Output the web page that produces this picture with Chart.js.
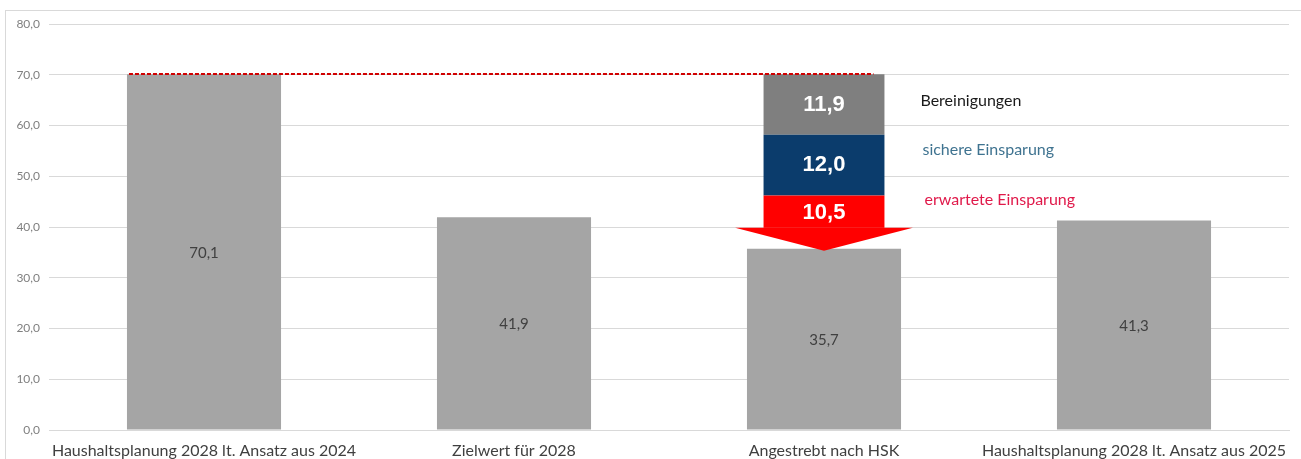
<!DOCTYPE html>
<html>
<head>
<meta charset="utf-8">
<script src="https://cdn.jsdelivr.net/npm/chart.js@4.4.1/dist/chart.umd.min.js"></script>
<style>
  html, body { margin: 0; padding: 0; background: #fff; }
  #wrap { position: relative; width: 1301px; height: 459px; overflow: hidden; }
  #frame { position: absolute; left: 5px; top: 10px; width: 1310px; height: 470px; border: 1px solid #d9d9d9; }
  #chart { position: absolute; left: 0; top: 0; }
</style>
</head>
<body>
<div id="wrap">
  <div id="frame"></div>
  <canvas id="chart" width="1301" height="459"></canvas>
</div>
<script>
var categories = [
  'Haushaltsplanung 2028 lt. Ansatz aus 2024',
  'Zielwert für 2028',
  'Angestrebt nach HSK',
  'Haushaltsplanung 2028 lt. Ansatz aus 2025'
];
var baseValues = [70.1, 41.9, 35.7, 41.3];
var expectedSavings = [null, null, 10.5, null];
var secureSavings = [null, null, 12.0, null];
var adjustments = [null, null, 11.9, null];
var seriesNames = ['erwartete Einsparung', 'sichere Einsparung', 'Bereinigungen'];
var targetLine = 70;

function fmt(v) {
  return v.toFixed(1).replace('.', ',');
}

var overlay = {
  id: 'overlay',
  afterDatasetsDraw: function (chart) {
    var ctx = chart.ctx;
    var y = chart.scales.y;
    var base0 = chart.getDatasetMeta(0).data;
    var red = chart.getDatasetMeta(1).data[2];
    var blue = chart.getDatasetMeta(2).data[2];
    var grey = chart.getDatasetMeta(3).data[2];

    // arrow for expected savings
    var headH = 21;
    var headHalf = red.width * 0.735;
    var rectBottom = red.base - headH;
    ctx.save();
    ctx.fillStyle = '#ff0000';
    ctx.fillRect(red.x - red.width / 2, red.y, red.width, rectBottom - red.y);
    ctx.beginPath();
    ctx.moveTo(red.x - headHalf, rectBottom);
    ctx.lineTo(red.x + headHalf, rectBottom);
    ctx.lineTo(red.x, red.base + 2);
    ctx.closePath();
    ctx.fill();

    // dashed target line
    var yy = Math.round(y.getPixelForValue(targetLine)) - 1;
    ctx.strokeStyle = '#d00000';
    ctx.lineWidth = 2;
    ctx.setLineDash([4, 2]);
    ctx.beginPath();
    ctx.moveTo(base0[0].x - base0[0].width / 2 + 2, yy);
    ctx.lineTo(grey.x + grey.width / 2 - 11, yy);
    ctx.stroke();
    ctx.setLineDash([]);

    // value labels in grey bars
    ctx.textAlign = 'center';
    ctx.textBaseline = 'middle';
    ctx.font = '15px Lato';
    ctx.fillStyle = '#404040';
    base0.forEach(function (el, i) {
      ctx.fillText(fmt(baseValues[i]), el.x, (el.y + el.base) / 2 + 1);
    });

    // stacked labels
    ctx.font = 'bold 22px "Liberation Sans"';
    ctx.fillStyle = '#ffffff';
    ctx.fillText(fmt(adjustments[2]), grey.x, (grey.y + grey.base) / 2);
    ctx.fillText(fmt(secureSavings[2]), blue.x, (blue.y + blue.base) / 2);
    ctx.fillText(fmt(expectedSavings[2]), red.x, (red.y + rectBottom) / 2 + 1);

    // side captions
    var tx = grey.x + grey.width / 2 + 36;
    ctx.textAlign = 'left';
    ctx.font = '16px Lato';
    ctx.fillStyle = '#1a1a1a';
    ctx.fillText(seriesNames[2], tx, grey.y + 27);
    ctx.fillStyle = '#3f7390';
    ctx.fillText(seriesNames[1], tx + 2, blue.y + 15);
    ctx.fillStyle = '#e0194a';
    ctx.fillText(seriesNames[0], tx + 4, red.y + 4);
    ctx.restore();
  }
};

var chart = new Chart(document.getElementById('chart').getContext('2d'), {
  type: 'bar',
  data: {
    labels: categories,
    datasets: [{
      label: 'Basis',
      data: baseValues,
      backgroundColor: '#a5a5a5',
      barPercentage: 0.497,
      categoryPercentage: 1
    }, {
      label: seriesNames[0],
      data: expectedSavings,
      backgroundColor: 'rgba(0,0,0,0)',
      barPercentage: 0.39,
      categoryPercentage: 1
    }, {
      label: seriesNames[1],
      data: secureSavings,
      backgroundColor: '#0b3c6c',
      barPercentage: 0.39,
      categoryPercentage: 1
    }, {
      label: seriesNames[2],
      data: adjustments,
      backgroundColor: '#7f7f7f',
      barPercentage: 0.39,
      categoryPercentage: 1
    }]
  },
  options: {
    responsive: false,
    animation: false,
    layout: { padding: { top: 24, right: 12, left: 0, bottom: 0 } },
    plugins: {
      legend: { display: false },
      tooltip: { enabled: false }
    },
    scales: {
      x: {
        stacked: true,
        grid: { display: false },
        border: { display: true, color: '#d9d9d9' },
        ticks: {
          color: '#404040',
          font: { family: 'Lato', size: 16 },
          padding: 3,
          maxRotation: 0,
          autoSkip: false
        },
        afterFit: function (s) { s.height = 29; }
      },
      y: {
        stacked: true,
        min: 0,
        max: 80,
        ticks: {
          stepSize: 10,
          color: '#808080',
          font: { family: 'Lato', size: 12 },
          padding: 9,
          callback: function (v) { return fmt(v); }
        },
        grid: { color: '#d9d9d9', drawTicks: false },
        border: { display: false },
        afterFit: function (s) { s.width = 49; }
      }
    }
  },
  plugins: [overlay]
});
</script>
</body>
</html>
